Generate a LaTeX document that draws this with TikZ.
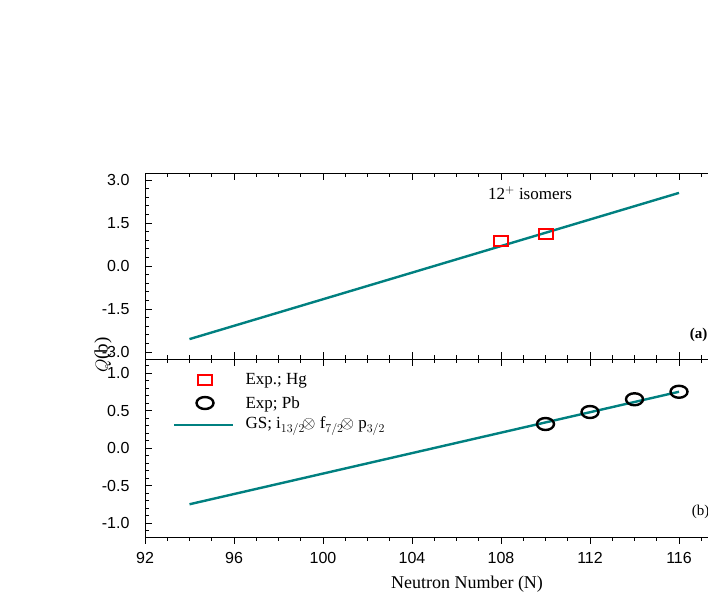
\documentclass[tikz,border=0pt]{standalone}
\usepackage{fontspec}
\setmainfont{Liberation Serif}
\setsansfont{Liberation Sans}
\usetikzlibrary{shapes.geometric}
\begin{document}
\begin{tikzpicture}[x=1pt,y=-1pt,
  fit/.style={draw=teal,line width=2.4pt},
  hg/.style={draw=red,line width=2pt,minimum width=14pt,minimum height=10pt,inner sep=0pt},
  pb/.style={draw=black,line width=2.4pt,ellipse,minimum width=17pt,minimum height=12pt,inner sep=0pt},
  tick/.style={line width=0.8pt},
  num/.style={font=\sffamily\fontsize{16}{16}\selectfont},
  declare function={X(\n)=145+(\n-92)*22.25; YA(\v)=266-\v*28.67; YB(\v)=448-\v*75;}]
\useasboundingbox (0,0) rectangle (708,599);
% frames
\draw[line width=1pt] (145,173) -- (708,173);
\draw[line width=1pt] (145,359) -- (708,359);
\draw[line width=1pt] (145,537) -- (708,537);
\draw[line width=1pt] (145,173) -- (145,537);
% x ticks
\foreach \n in {92,...,117}{
  \pgfmathsetmacro{\xx}{X(\n)}
  \pgfmathsetmacro{\len}{mod(\n,4)==0 ? 7 : 4}
  \draw[tick] (\xx,173) -- ++(0,\len);
  \draw[tick] (\xx,359) -- ++(0,-\len);
  \draw[tick] (\xx,359) -- ++(0,\len);
  \draw[tick] (\xx,537) -- ++(0,\len);
}
\foreach \n in {92,96,...,116}{
  \node[num] (xl\n) at ({X(\n)},558) {\n};
}
% y ticks panel a
\foreach \i in {-10,...,10}{
  \pgfmathsetmacro{\yy}{YA(\i*0.3)}
  \pgfmathsetmacro{\len}{mod(\i+10,5)==0 ? 7 : 4}
  \draw[tick] (145,\yy) -- ++(\len,0);
}
\foreach \v/\t in {3/3.0,1.5/1.5,0/0.0,-1.5/-1.5,-3/-3.0}{
  \node[num,anchor=east] (ya\t) at (133,{YA(\v)}) {\t};
}
% y ticks panel b
\foreach \i in {-11,...,11}{
  \pgfmathsetmacro{\yy}{YB(\i*0.1)}
  \pgfmathsetmacro{\len}{mod(\i+10,5)==0 ? 7 : 4}
  \draw[tick] (145,\yy) -- ++(\len,0);
}
\foreach \v/\t in {1/1.0,0.5/0.5,0/0.0,-0.5/-0.5,-1/-1.0}{
  \node[num,anchor=east] (yb\t) at (133,{YB(\v)}) {\t};
}
% curves
\coordinate (a1) at ({X(94)},{YA(-2.55)});
\coordinate (a2) at ({X(116)},{YA(2.55)});
\draw[fit] (a1) -- (a2);
\coordinate (b1) at ({X(94)},{YB(-0.75)});
\coordinate (b2) at ({X(116)},{YB(0.75)});
\draw[fit] (b1) -- (b2);
% data
\node[hg] (h1) at ({X(108)},{YA(0.88)}) {};
\node[hg] (h2) at ({X(110)},{YA(1.13)}) {};
\node[pb] (p1) at ({X(110)},{YB(0.32)}) {};
\node[pb] (p2) at ({X(112)},{YB(0.48)}) {};
\node[pb] (p3) at ({X(114)},{YB(0.65)}) {};
\node[pb] (p4) at ({X(116)},{YB(0.75)}) {};
% labels
\node[font=\fontsize{17}{17}\selectfont] (iso) at (530,193) {12$^{+}$ isomers};
\node[font=\bfseries\fontsize{15}{15}\selectfont,anchor=east] (pa) at (711,335) {(a)};
\node[font=\fontsize{15}{15}\selectfont,anchor=east] (pbl) at (713,512) {(b)};
\node[font=\fontsize{19}{19}\selectfont,rotate=90] (ylab) at (103,355) {$Q$(b)};
\node[font=\fontsize{18}{18}\selectfont] (xlab) at (467,584) {Neutron Number (N)};
% legend
\node[hg] (lg1) at (205,380) {};
\node[font=\fontsize{17}{17}\selectfont,anchor=west] (lt1) at (242,381) {Exp.; Hg};
\node[pb] (lg2) at (205,403) {};
\node[font=\fontsize{17}{17}\selectfont,anchor=west] (lt2) at (242,404) {Exp; Pb};
\coordinate (l1) at (174,425);
\coordinate (l2) at (233,425);
\draw[fit] (l1) -- (l2);
\node[font=\fontsize{17}{17}\selectfont,anchor=west] (lt3) at (242,426) {GS; i$_{13/2}\!\otimes$ f$_{7/2}\!\otimes$ p$_{3/2}$};
\end{tikzpicture}
\end{document}
